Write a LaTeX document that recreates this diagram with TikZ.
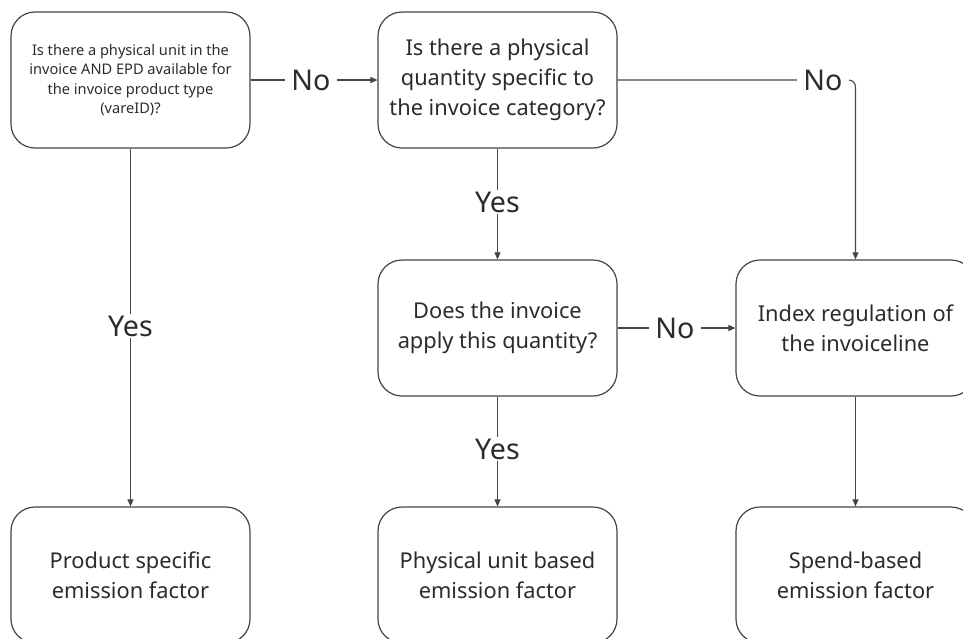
\documentclass[tikz,border=0pt]{standalone}
\usepackage{fontspec}
\setmainfont{Noto Sans}
\usetikzlibrary{arrows.meta}
\definecolor{ink}{HTML}{2B2B2B}
\definecolor{edge}{HTML}{444444}
\begin{document}
\begin{tikzpicture}[x=1pt,y=-1pt,
  box/.style={draw=edge, line width=1.2pt, rounded corners=24pt, minimum width=239pt, minimum height=136pt, align=center, text=ink, inner sep=0pt},
  big/.style={font=\fontsize{21.8}{30}\selectfont},
  small/.style={font=\fontsize{14.6}{19.2}\selectfont},
  lbl/.style={fill=white, text=ink, font=\fontsize{28.6}{32}\selectfont, inner xsep=6pt, inner ysep=2pt},
  conn/.style={draw=edge, line width=1.1pt, -{Triangle[length=7pt,width=6pt]}}]
\useasboundingbox (0,0) rectangle (963,638);
\clip (0,0) rectangle (963,638);
\node[box,small] (A) at (130.5,80) {Is there a physical unit in the\\invoice AND EPD available for\\the invoice product type\\(vareID)?};
\node[box,big] (B) at (497.5,80) {Is there a physical\\quantity specific to\\the invoice category?};
\node[box,big] (C) at (497.5,328) {Does the invoice\\apply this quantity?};
\node[box,big] (D) at (855.5,328) {Index regulation of\\the invoiceline};
\node[box,big] (E) at (130.5,575) {Product specific\\emission factor};
\node[box,big] (F) at (497.5,575) {Physical unit based\\emission factor};
\node[box,big] (G) at (855.5,575) {Spend-based\\emission factor};
\coordinate (corner) at (855.5,80);
\draw[conn] (A.east) -- (B.west);
\node[lbl] (n1) at (311,80) {No};
\draw[conn, rounded corners=7pt] (B.east) -- (corner) -- (D.north);
\node[lbl] (n2) at (823,80) {No};
\draw[conn] (B.south) -- (C.north);
\node[lbl] (y1) at (497.5,202) {Yes};
\draw[conn] (C.east) -- (D.west);
\node[lbl] (n3) at (675,328) {No};
\draw[conn] (C.south) -- (F.north);
\node[lbl] (y2) at (497.5,449) {Yes};
\draw[conn] (A.south) -- (E.north);
\node[lbl] (y3) at (130.5,326) {Yes};
\draw[conn] (D.south) -- (G.north);
\end{tikzpicture}
\end{document}
